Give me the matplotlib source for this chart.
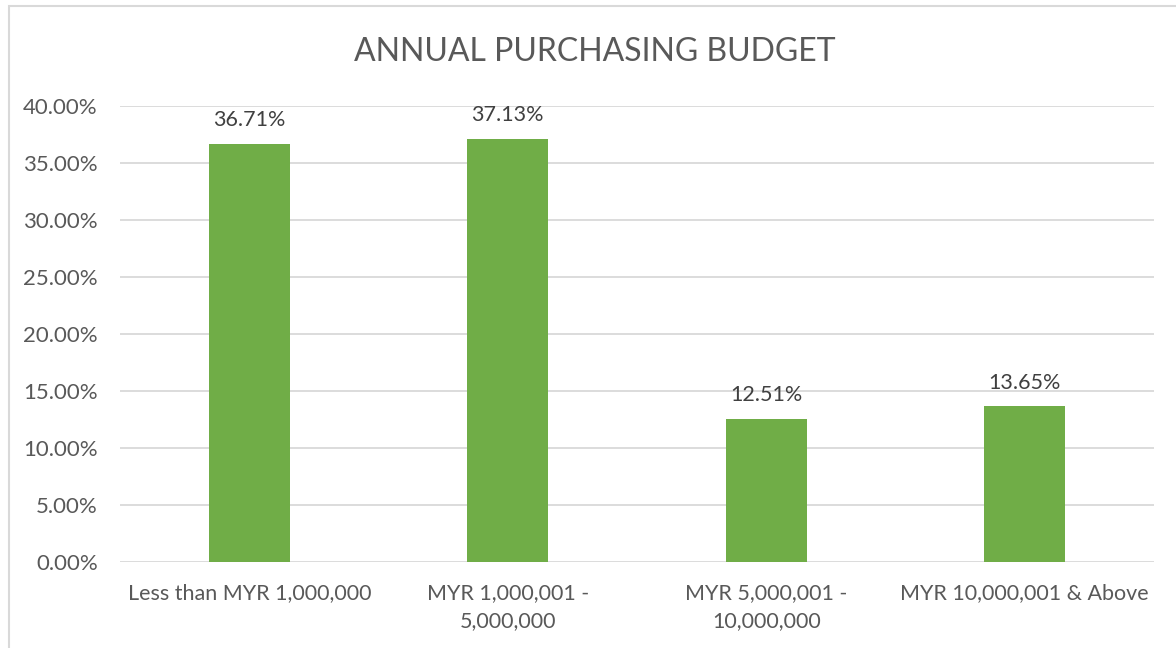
import matplotlib
matplotlib.use("Agg")
import matplotlib.pyplot as plt
from matplotlib.patches import Rectangle
from matplotlib.ticker import FuncFormatter, MultipleLocator

categories = ["Less than MYR 1,000,000", "MYR 1,000,001 -\n5,000,000",
              "MYR 5,000,001 -\n10,000,000", "MYR 10,000,001 & Above"]
values = [36.71, 37.13, 12.51, 13.65]
title = "ANNUAL PURCHASING BUDGET"

plt.rcParams['font.family'] = ['Lato', 'DejaVu Sans']
text_color = "#595959"
grid_color = "#d9d9d9"
bar_color = "#70ad47"

fig = plt.figure(figsize=(11.76, 6.48), dpi=100)
fig.patches.append(Rectangle((8.5/1176, -0.1), 1.2, 1 - 6.5/648 + 0.1,
                             transform=fig.transFigure, fill=False,
                             edgecolor=grid_color, linewidth=1.5))
ax = fig.add_axes([120/1176, 1 - 562/648, (1154-120)/1176, (562-106)/648])

x = list(range(len(categories)))
bars = ax.bar(x, values, width=0.313, color=bar_color, zorder=3)
for xi, v in zip(x, values):
    ax.annotate(f"{v:.2f}%", (xi, v), xytext=(0, 10), textcoords="offset points",
                ha="center", va="bottom", fontsize=15.5, color="#404040")

ax.set_xlim(-0.5, len(categories) - 0.5)
ax.set_ylim(0, 40)
ax.yaxis.set_major_locator(MultipleLocator(5))
ax.yaxis.set_major_formatter(FuncFormatter(lambda v, p: f"{v:.2f}%"))
ax.grid(axis="y", color=grid_color, linewidth=1.3, zorder=0)
ax.set_xticks(x)
ax.set_xticklabels(categories, fontsize=15.5, color=text_color, linespacing=1.5)
ax.tick_params(axis="y", labelsize=16, labelcolor=text_color, length=0, pad=16)
ax.tick_params(axis="x", length=0, pad=15)
for s in ax.spines.values():
    s.set_visible(False)

fig.text(595/1176, 1 - 52/648, title, ha="center", va="center",
         fontsize=23, color=text_color)

fig.savefig("out.png", dpi=100)
